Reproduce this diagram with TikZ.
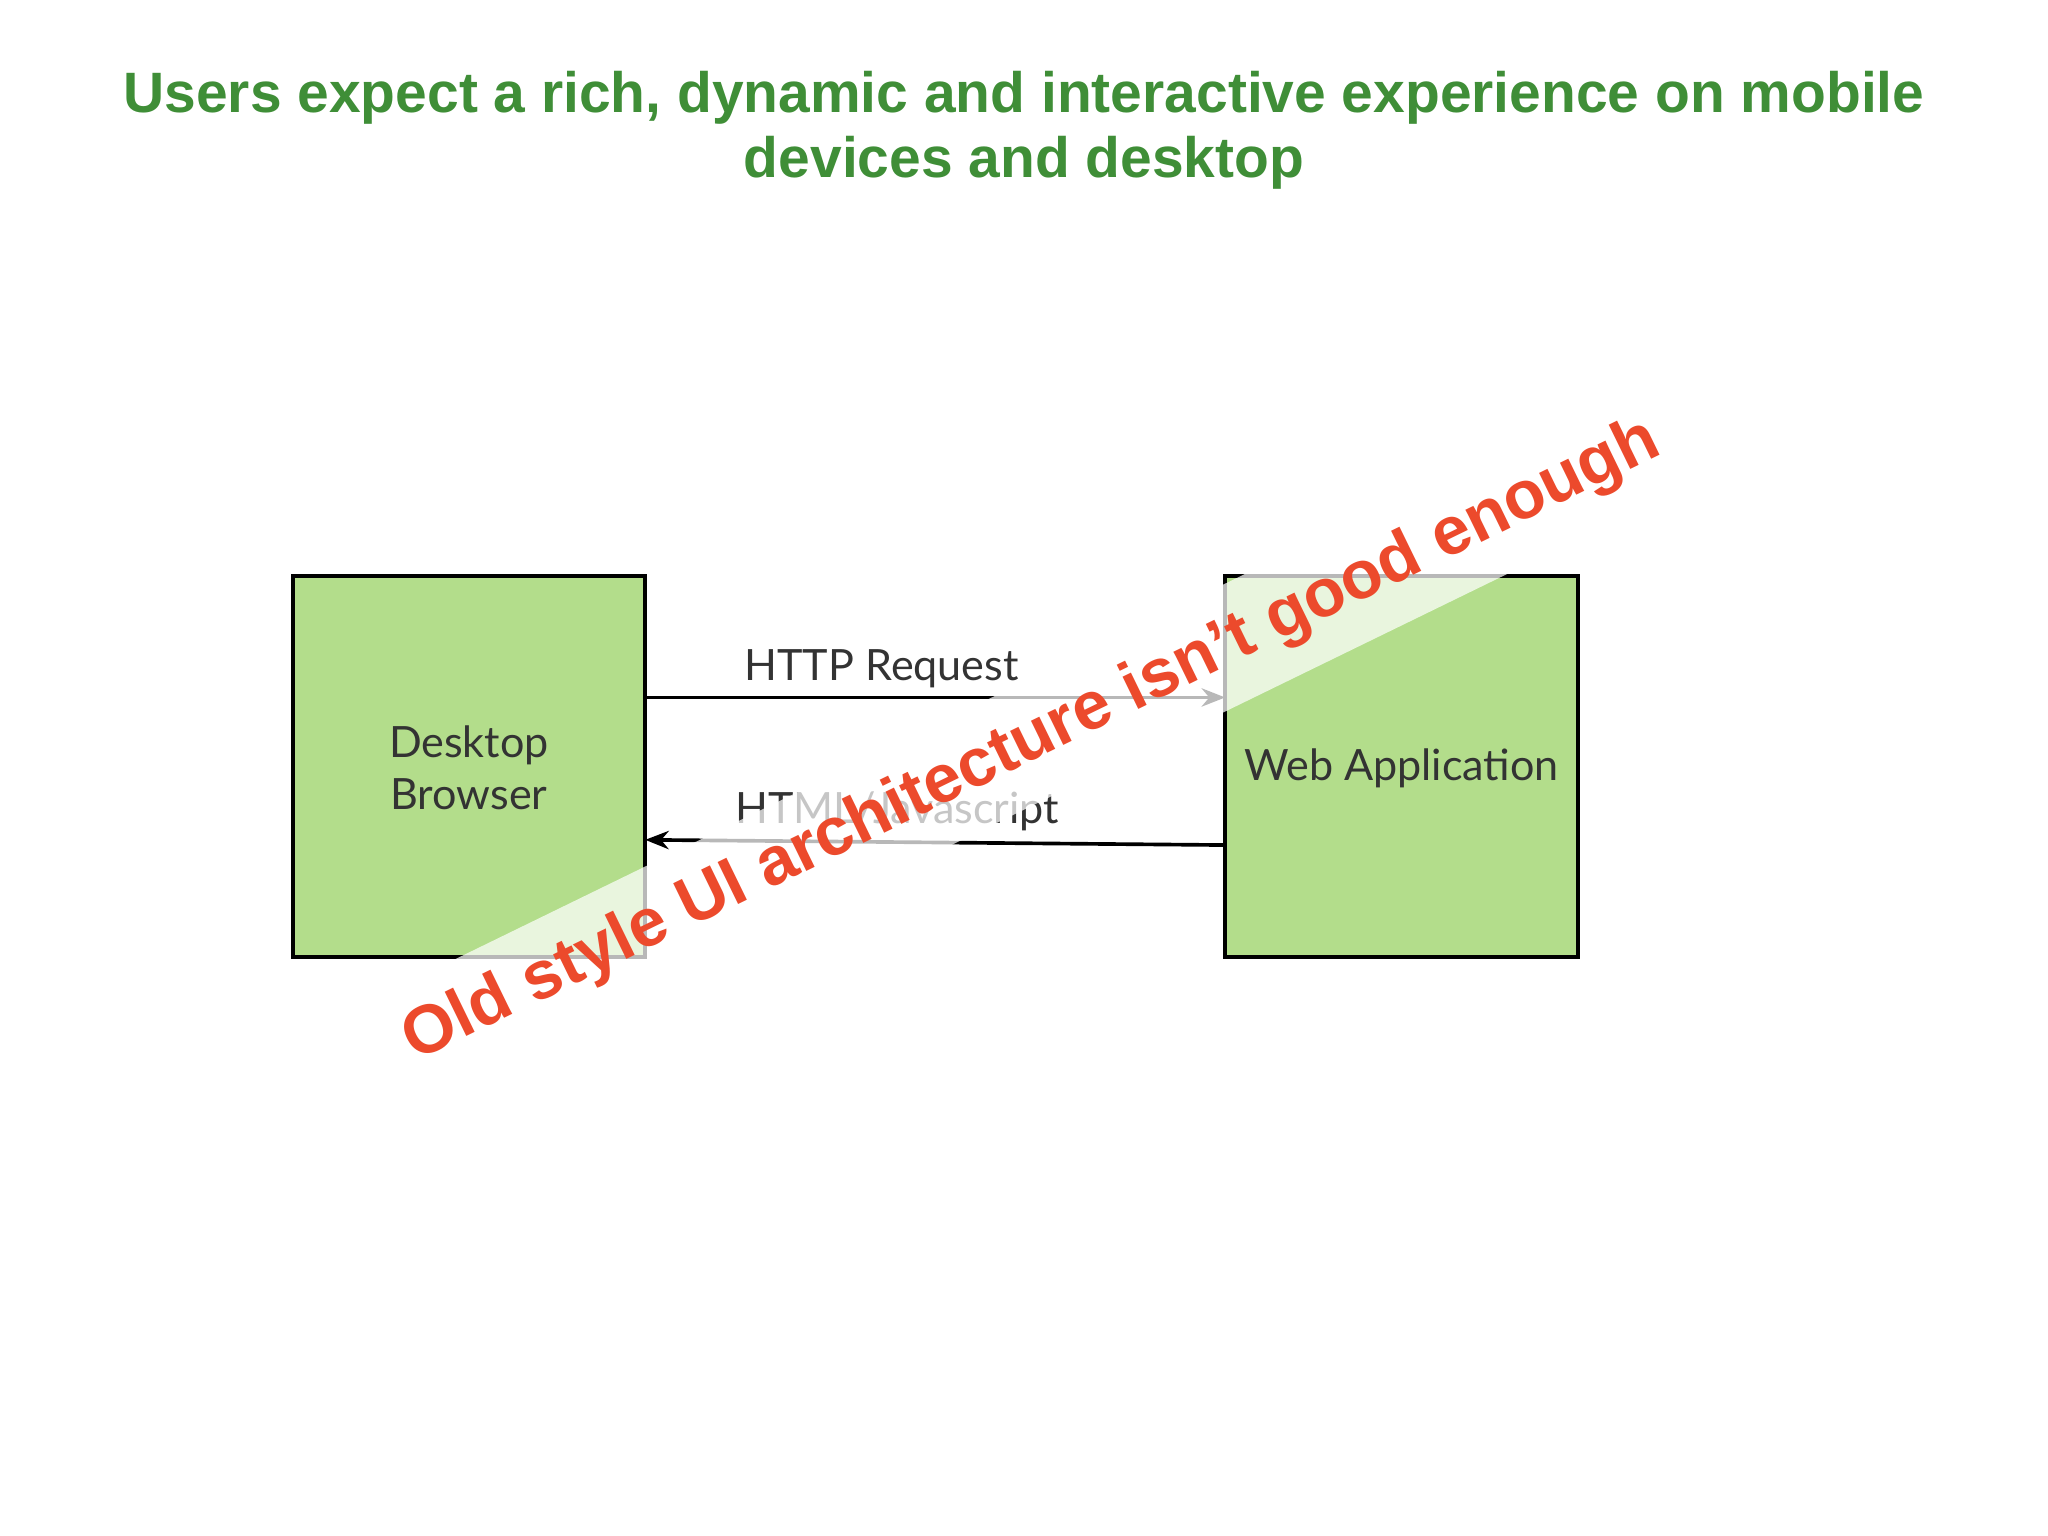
\documentclass[tikz,border=0pt]{standalone}
\usepackage{fontspec}
\usetikzlibrary{arrows.meta}
\setmainfont{Liberation Sans}
\newfontfamily\labfont{Lato}
\definecolor{ttl}{HTML}{3F8E37}
\definecolor{boxg}{HTML}{B3DD8B}
\definecolor{warn}{HTML}{EC4A2C}
\definecolor{lab}{HTML}{333333}
\begin{document}
\begin{tikzpicture}[x=0.5pt,y=-0.5pt,
  box/.style={draw=black,line width=1.5pt,fill=boxg},
  lbl/.style={font=\labfont\fontsize{16.5}{20}\selectfont,text=lab,align=center},
  conn/.style={line width=1.4pt,-{Stealth[length=9pt,width=7pt]}}]
\useasboundingbox (0,0) rectangle (1568,1176);
\node[font=\bfseries\fontsize{21.8}{25}\selectfont,text=ttl,align=center] (title) at (784,100) {Users expect a rich, dynamic and interactive experience on mobile\\devices and desktop};
\draw[box] (224,441) rectangle (494,733);
\draw[box] (938,441) rectangle (1208,733);
\node[lbl] (db) at (359,588) {Desktop\\Browser};
\node[lbl] (wa) at (1073,588) {Web Application};
\coordinate (a1) at (494,534); \coordinate (a2) at (938,534);
\coordinate (b1) at (938,647); \coordinate (b2) at (494,643);
\draw[conn] (a1) -- (a2);
\draw[conn] (b1) -- (b2);
\node[lbl] (req) at (675,512) {HTTP Request};
\node[lbl] (resp) at (687,621) {HTML/Javascript};
\node[rotate=26,fill=white,fill opacity=0.72,text opacity=1,text=warn,
  font=\bfseries\fontsize{26}{30}\selectfont,minimum height=44pt,inner xsep=2pt] (warn) at (790,568)
  {Old style UI architecture isn’t good enough};
\end{tikzpicture}
\end{document}
